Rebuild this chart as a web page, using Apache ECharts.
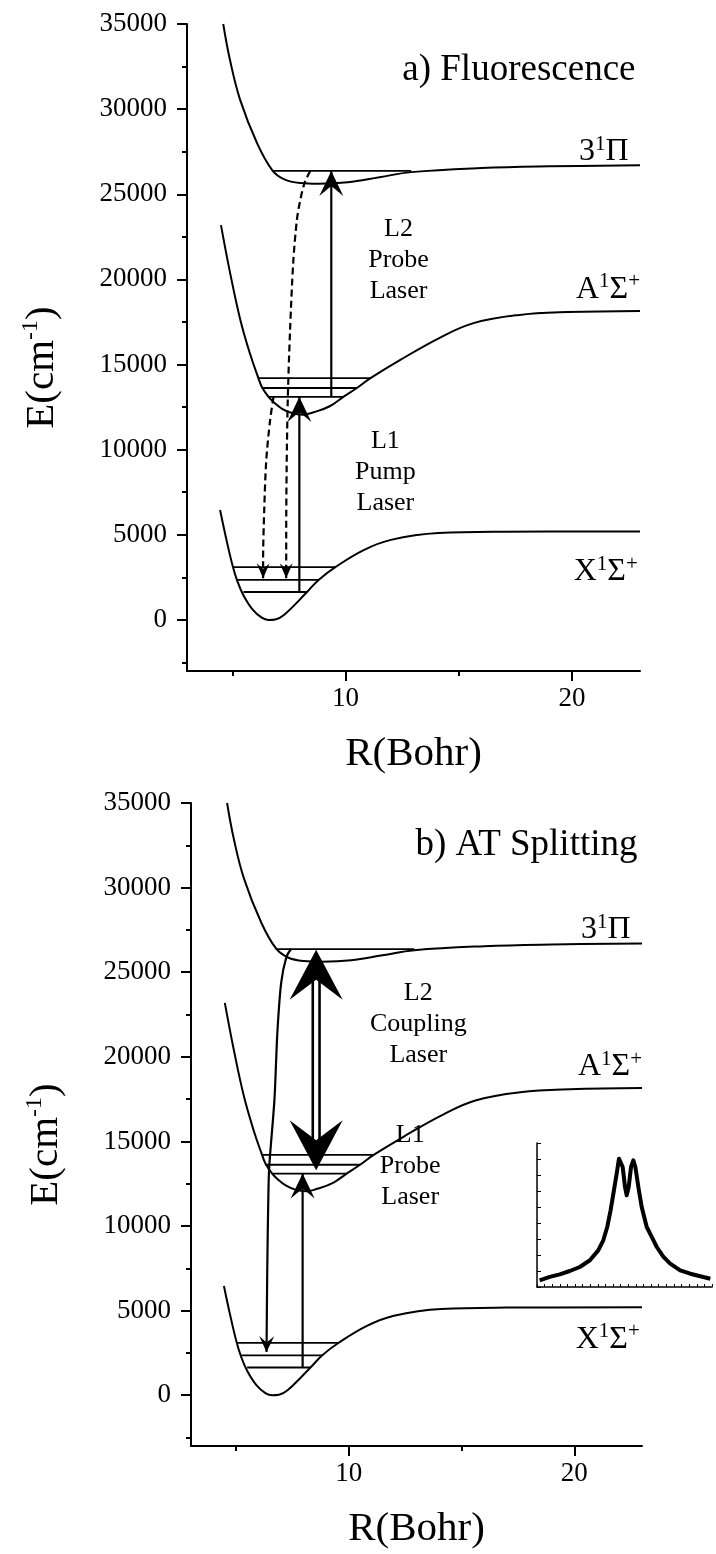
<!DOCTYPE html>
<html>
<head>
<meta charset="utf-8">
<script src="https://cdn.jsdelivr.net/npm/echarts@6/dist/echarts.min.js"></script>
<style>
  html, body { margin: 0; background: #fff; }
  #main { width: 716px; height: 1554px; }
</style>
</head>
<body>
<div id="main"></div>
<script>
// axis ticks
var xMajor = [10, 20];
var xMinor = [5, 15];
var yMajor = [0, 5000, 10000, 15000, 20000, 25000, 30000, 35000];
var yMinor = [-2500, 2500, 7500, 12500, 17500, 22500, 27500, 32500];

// potential curves, R (Bohr) vs E (cm-1)
var stateX = [[4.46, 6460], [4.76, 4600], [5.02, 3150], [5.23, 2250], [5.49, 1450], [5.9, 600], [6.3, 130],
  [6.6, 0], [6.9, 30], [7.28, 290], [8.3, 1640], [8.81, 2350], [9.55, 3100], [10.8, 4100],
  [12.0, 4700], [14.1, 5100], [17, 5180], [23, 5200]];
var stateA = [[4.5, 23190], [4.9, 20400], [5.35, 17650], [5.79, 15600], [6.14, 14250], [6.3, 13700],
  [6.6, 13100], [6.82, 12800], [7.2, 12400], [7.63, 12150], [8.1, 12050], [8.6, 12200], [9.3, 12550],
  [9.9, 13100], [10.5, 13620], [11.1, 14200], [12.4, 15260], [14.2, 16600], [15.65, 17430], [17.6, 17900],
  [19.8, 18080], [23, 18150]];
var statePi = [[4.6, 35000], [4.9, 32870], [5.35, 30530], [6.1, 27980], [6.76, 26420], [7.3, 25870],
  [8.0, 25660], [8.8, 25620], [10.1, 25700], [11.5, 26000], [12.9, 26300], [16, 26540], [19, 26640],
  [23, 26700]];

// vibrational levels [Rleft, Rright, E]
var levelsX = [[5.02, 9.55, 3100], [5.23, 8.81, 2350], [5.49, 8.3, 1640]];
var levelsA = [[6.14, 11.1, 14200], [6.3, 10.5, 13620], [6.6, 9.9, 13100]];
var levelsPi = [[6.76, 12.9, 26370]];

// a) fluorescence transitions
var probeA = [[9.37, 13100], [9.37, 26370]];
var pumpA = [[7.96, 1640], [7.96, 13100]];
var fluorA1 = [[8.44, 26370], [8.2, 25700], [8.0, 24650], [7.85, 23480], [7.69, 21000], [7.55, 17000],
  [7.45, 13000], [7.4, 9000], [7.38, 5000], [7.38, 2450]];
var fluorA2 = [[6.82, 13100], [6.67, 11740], [6.5, 9390], [6.41, 6460], [6.36, 3520], [6.36, 2450]];

// b) AT splitting transitions
var probeB = [[7.95, 1640], [7.95, 13100]];
var couplingB = [[8.55, 13300], [8.55, 26330]];
var couplingShaft = [[8.40, 8.70], [14700, 24900]];
var emissionB = [[7.44, 26370], [7.23, 25900], [7.0, 24380], [6.83, 21430], [6.7, 17470], [6.47, 13520],
  [6.43, 11750], [6.38, 7260], [6.35, 2550]];

// inset spectrum
var specX = [0.35, 1.67, 2.99, 4.31, 5.63, 6.95, 8.05, 8.71, 9.23, 9.67, 10.11, 10.47, 10.77, 10.99, 11.26,
  11.57, 11.79, 12.05, 12.36, 12.66, 12.93, 13.32, 13.76, 14.42, 15.08, 15.74, 16.62, 17.5, 18.82, 20.14,
  21.46, 22.78];
var specY = [4.2, 6.3, 7.9, 10.0, 12.5, 16.7, 22.9, 29.2, 37.5, 47.9, 60.4, 70.8, 80.2, 81.3, 75.0,
  62.5, 57.3, 62.5, 75.0, 79.2, 75.0, 62.5, 50.0, 37.5, 31.3, 25.0, 18.8, 14.6, 10.4, 8.3,
  6.7, 5.2];

var FONT = 'Liberation Serif';

var chart = echarts.init(document.getElementById('main'));

function lineS(g, pts, extra) {
  var s = {
    type: 'line', xAxisIndex: 2 * g, yAxisIndex: 2 * g, data: pts, symbol: 'none',
    silent: true, animation: false, z: 3,
    lineStyle: { color: '#000', width: 2 }
  };
  for (var k in extra) s[k] = extra[k];
  return s;
}

function head(g, tip, back, w, len) {
  return {
    type: 'custom', xAxisIndex: 2 * g, yAxisIndex: 2 * g, silent: true, animation: false, z: 5,
    data: [[tip[0], tip[1], back[0], back[1]]],
    encode: { x: [0, 2], y: [1, 3] },
    renderItem: function (params, api) {
      var p = api.coord([api.value(0), api.value(1)]);
      var q = api.coord([api.value(2), api.value(3)]);
      var dx = p[0] - q[0], dy = p[1] - q[1];
      var d = Math.sqrt(dx * dx + dy * dy);
      var ux = dx / d, uy = dy / d, nx = -uy, ny = ux;
      var bx = p[0] - ux * len, by = p[1] - uy * len;
      var cx = p[0] - ux * len * 0.6, cy = p[1] - uy * len * 0.6;
      return {
        type: 'polygon',
        shape: { points: [p, [bx + nx * w / 2, by + ny * w / 2], [cx, cy], [bx - nx * w / 2, by - ny * w / 2]] },
        style: { fill: '#000' }
      };
    }
  };
}

function levels(g, list) {
  return list.map(function (l) {
    return lineS(g, [[l[0], l[2]], [l[1], l[2]]], { lineStyle: { color: '#000', width: 1.8 } });
  });
}

var richState = {
  m: { fontFamily: FONT, fontSize: 32, lineHeight: 36, fill: '#000' },
  s: { fontFamily: FONT, fontSize: 21, lineHeight: 22, verticalAlign: 'top', fill: '#000' }
};

// items: [R, E, text, align, fontSize, lineHeight]
function textS(g, items) {
  return {
    type: 'custom', xAxisIndex: 2 * g, yAxisIndex: 2 * g, silent: true, animation: false, z: 6,
    data: items.map(function (it) { return [it[0], it[1]]; }),
    encode: { x: 0, y: 1 },
    renderItem: function (params, api) {
      var it = items[params.dataIndex];
      var p = api.coord([api.value(0), api.value(1)]);
      return {
        type: 'text', x: p[0], y: p[1],
        style: {
          text: it[2], rich: richState, fill: '#000',
          fontFamily: FONT, fontSize: it[4] || 26, lineHeight: it[5] || 31,
          align: it[3] || 'right', verticalAlign: 'middle'
        }
      };
    }
  };
}

function panel(g, transitions) {
  var out = [
    lineS(g, statePi, { smooth: 0.4 }),
    lineS(g, stateA, { smooth: 0.4 }),
    lineS(g, stateX, { smooth: 0.4 })
  ];
  out = out.concat(levels(g, levelsX), levels(g, levelsA), levels(g, levelsPi));
  return out.concat(transitions);
}

function plain(v) { return String(v); }

function xAxes(g) {
  var common = {
    type: 'value', gridIndex: g, min: 3, max: 23, position: 'bottom',
    splitLine: { show: false }
  };
  return [
    Object.assign({}, common, {
      axisLine: { onZero: false, lineStyle: { color: '#000', width: 2 } },
      axisTick: { customValues: xMajor, length: 10, lineStyle: { color: '#000', width: 2 } },
      axisLabel: { customValues: xMajor, formatter: plain, margin: 14, fontFamily: FONT, fontSize: 27, color: '#000' },
      name: 'R(Bohr)', nameLocation: 'middle', nameGap: 63,
      nameTextStyle: { fontFamily: FONT, fontSize: 41, color: '#000' }
    }),
    Object.assign({}, common, {
      axisLine: { show: false, onZero: false },
      axisTick: { customValues: xMinor, length: 5, lineStyle: { color: '#000', width: 2 } },
      axisLabel: { show: false }
    })
  ];
}

function yAxes(g) {
  var common = {
    type: 'value', gridIndex: g, min: -3000, max: 35000, position: 'left',
    splitLine: { show: false }
  };
  return [
    Object.assign({}, common, {
      axisLine: { onZero: false, lineStyle: { color: '#000', width: 2 } },
      axisTick: { customValues: yMajor, length: 10, lineStyle: { color: '#000', width: 2 } },
      axisLabel: { customValues: yMajor, formatter: plain, margin: 20, fontFamily: FONT, fontSize: 27, color: '#000' },
      name: '{b|E(cm}{s|-1}{b|)}', nameLocation: 'middle', nameGap: 122,
      nameTextStyle: {
        padding: [0, 40, 0, 0],
        rich: {
          b: { fontFamily: FONT, fontSize: 41, lineHeight: 46, color: '#000' },
          s: { fontFamily: FONT, fontSize: 24, lineHeight: 24, verticalAlign: 'top', color: '#000' }
        }
      }
    }),
    Object.assign({}, common, {
      axisLine: { show: false, onZero: false },
      axisTick: { customValues: yMinor, length: 5, lineStyle: { color: '#000', width: 2 } },
      axisLabel: { show: false }
    })
  ];
}

var dashed = { lineStyle: { color: '#000', width: 2.2, type: [7, 4] }, smooth: 0.3 };
var solid = { lineStyle: { color: '#000', width: 2.2 } };

var trA = [
  lineS(0, probeA, solid),
  head(0, probeA[1], probeA[0], 24, 25),
  lineS(0, pumpA, solid),
  head(0, pumpA[1], pumpA[0], 24, 25),
  lineS(0, fluorA1, dashed),
  head(0, fluorA1[fluorA1.length - 1], fluorA1[fluorA1.length - 2], 13, 15),
  lineS(0, fluorA2, dashed),
  head(0, fluorA2[fluorA2.length - 1], fluorA2[fluorA2.length - 2], 13, 15),
  textS(0, [
    [22.8, 32300, 'a) Fluorescence', 'right', 37, 40],
    [22.5, 27500, '{m|3}{s|1}{m|Π}'],
    [23.0, 19430, '{m|A}{s|1}{m|Σ}{s|+}'],
    [22.9, 2820, '{m|X}{s|1}{m|Σ}{s|+}'],
    [12.34, 21130, 'L2\nProbe\nLaser', 'center'],
    [11.76, 8690, 'L1\nPump\nLaser', 'center']
  ])
];

var trB = [
  lineS(1, emissionB, { lineStyle: { color: '#000', width: 2.2 }, smooth: 0.3 }),
  head(1, emissionB[emissionB.length - 1], emissionB[emissionB.length - 2], 15, 16),
  lineS(1, probeB, solid),
  head(1, probeB[1], probeB[0], 24, 25),
  lineS(1, [[couplingShaft[0][0], couplingShaft[1][0]], [couplingShaft[0][0], couplingShaft[1][1]]],
    { lineStyle: { color: '#000', width: 2.6 } }),
  lineS(1, [[couplingShaft[0][1], couplingShaft[1][0]], [couplingShaft[0][1], couplingShaft[1][1]]],
    { lineStyle: { color: '#000', width: 2.6 } }),
  head(1, couplingB[1], couplingB[0], 53, 50),
  head(1, couplingB[0], couplingB[1], 53, 50),
  textS(1, [
    [22.8, 32530, 'b) AT Splitting', 'right', 37, 40],
    [22.5, 27500, '{m|3}{s|1}{m|Π}'],
    [23.0, 19420, '{m|A}{s|1}{m|Σ}{s|+}'],
    [22.9, 3300, '{m|X}{s|1}{m|Σ}{s|+}'],
    [13.08, 21900, 'L2\nCoupling\nLaser', 'center'],
    [12.72, 13520, 'L1\nProbe\nLaser', 'center']
  ])
];

var spectrum = specX.map(function (x, i) { return [x, specY[i]]; });

var option = {
  backgroundColor: '#fff',
  animation: false,
  grid: [
    { left: 187, top: 24, width: 453, height: 647 },
    { left: 191, top: 803, width: 451, height: 643 },
    { left: 537, top: 1143, width: 175, height: 144 }
  ],
  xAxis: xAxes(0).concat(xAxes(1), [{
    type: 'value', gridIndex: 2, min: 0, max: 23, interval: 1, splitLine: { show: false },
    axisLine: { onZero: false, lineStyle: { color: '#000', width: 1.5 } },
    axisTick: { inside: true, length: 3, lineStyle: { color: '#000', width: 1 } },
    axisLabel: { show: false }
  }]),
  yAxis: yAxes(0).concat(yAxes(1), [{
    type: 'value', gridIndex: 2, min: 0, max: 90, interval: 10, splitLine: { show: false },
    axisLine: { onZero: false, lineStyle: { color: '#000', width: 1.5 } },
    axisTick: { inside: true, length: 4, lineStyle: { color: '#000', width: 1 } },
    axisLabel: { show: false }
  }]),
  series: panel(0, trA).concat(panel(1, trB), [{
    type: 'line', xAxisIndex: 4, yAxisIndex: 4, data: spectrum, symbol: 'none', silent: true,
    animation: false, lineStyle: { color: '#000', width: 4, join: 'round' }
  }])
};

chart.setOption(option);
</script>
</body>
</html>
